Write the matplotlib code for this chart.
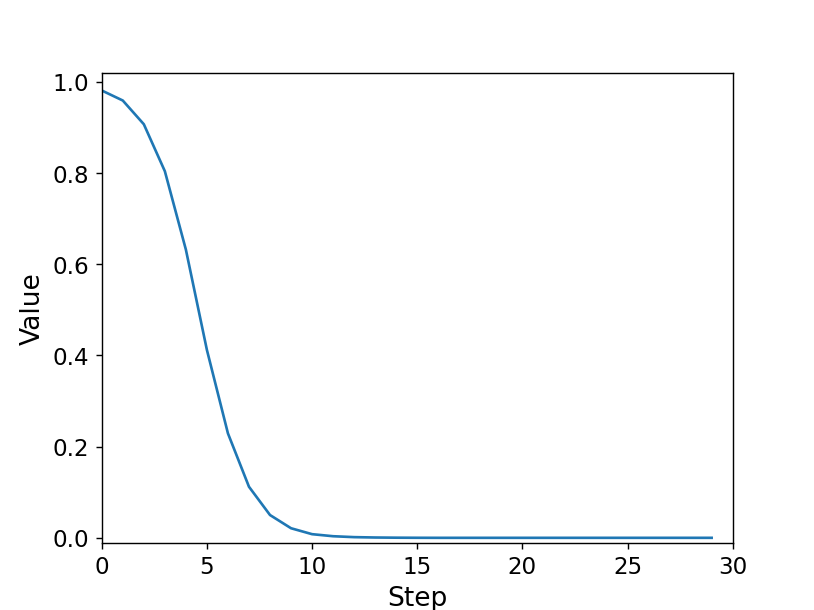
import numpy as np
import matplotlib
matplotlib.use('Agg')
import matplotlib.pyplot as plt

# values, one per step
steps = list(range(30))
values = [0.981, 0.959, 0.907, 0.804, 0.632, 0.412, 0.229, 0.112, 0.050, 0.021,
          0.008, 0.0035, 0.0015, 0.0007, 0.0003, 0.0001, 0.0, 0.0, 0.0, 0.0,
          0.0, 0.0, 0.0, 0.0, 0.0, 0.0, 0.0, 0.0, 0.0, 0.0]

fig, ax = plt.subplots(figsize=(6.4, 4.8), dpi=127.2)
ax.plot(steps, values)
ax.set_xlim(0, 30)
ax.set_ylim(-0.011, 1.02)
ax.set_xlabel('Step', fontsize=15)
ax.set_ylabel('Value', fontsize=15)
ax.tick_params(labelsize=13)

fig.savefig('out.png', dpi=127.2)
